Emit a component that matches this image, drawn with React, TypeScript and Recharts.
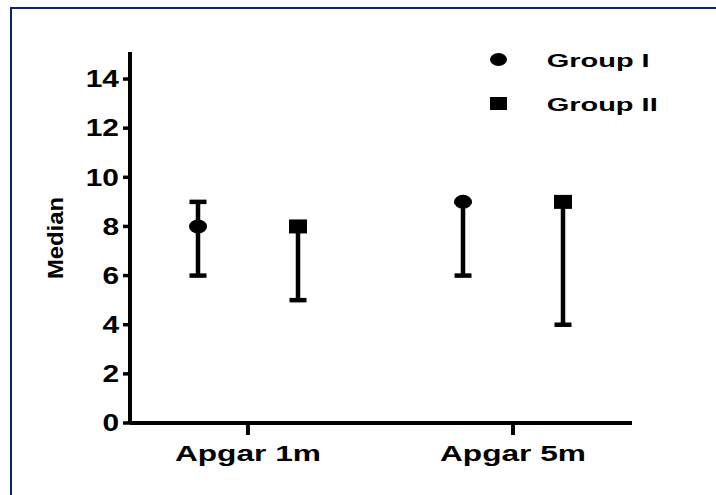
import React from 'react';
import { ScatterChart, Scatter, XAxis, YAxis, ErrorBar, Legend } from 'recharts';

// ---- data ----
const categories = ['Apgar 1m', 'Apgar 5m'];
const seriesNames = ['Group I', 'Group II'];
const groupIMedian = [8, 9];
const groupILow = [6, 6];
const groupIHigh = [9, 9];
const groupIIMedian = [8, 9];
const groupIILow = [5, 4];
const groupIIHigh = [8, 9];
const yTicks = [0, 2, 4, 6, 8, 10, 12, 14];
const yLabel = 'Median';

const FONT = '"Liberation Sans", Arial, Helvetica, sans-serif';
const INK = '#000';

const build = (med: number[], low: number[], high: number[]) =>
  categories.map((c, i) => ({
    x: i + 1,
    category: c,
    y: med[i],
    err: [med[i] - low[i], high[i] - med[i]],
  }));

const groupIData = build(groupIMedian, groupILow, groupIHigh);
const groupIIData = build(groupIIMedian, groupIILow, groupIIHigh);

const CircleMark = (p: any) => <ellipse cx={p.cx} cy={p.cy} rx={9} ry={7} fill={INK} />;
const SquareMark = (p: any) => <rect x={p.cx - 9} y={p.cy - 7} width={18} height={14} fill={INK} />;

const YTick = ({ x, y, payload }: any) => (
  <g transform={`translate(${x},${y}) scale(1.3,1)`}>
    <text x={0} y={0} dy="0.36em" textAnchor="end" fontFamily={FONT} fontSize={23} fontWeight="bold" fill={INK}>
      {payload.value}
    </text>
  </g>
);

const XTick = ({ x, y, payload }: any) => (
  <text
    x={x}
    y={y}
    dy="0.71em"
    textAnchor="middle"
    textLength={146}
    lengthAdjust="spacingAndGlyphs"
    fontFamily={FONT}
    fontSize={22}
    fontWeight="bold"
    fill={INK}
  >
    {categories[payload.value - 1]}
  </text>
);

const LegendContent = (props: any) => {
  const payload = props.payload || [];
  return (
    <svg width={200} height={80} style={{ display: 'block' }}>
      {payload.map((entry: any, i: number) => {
        const cy = 19.5 + i * 44;
        const name = entry.value;
        const idx = seriesNames.indexOf(name);
        return (
          <g key={name}>
            {idx === 0 ? (
              <ellipse cx={18.5} cy={cy} rx={8.5} ry={6.5} fill={INK} />
            ) : (
              <rect x={10} y={cy - 6.5} width={17} height={13} fill={INK} />
            )}
            <text
              x={66.7}
              y={cy + 7}
              textLength={idx === 0 ? 103 : 111}
              lengthAdjust="spacingAndGlyphs"
              fontFamily={FONT}
              fontSize={18}
              fontWeight="bold"
              fill={INK}
            >
              {name}
            </text>
          </g>
        );
      })}
    </svg>
  );
};

export default function App() {
  return (
    <div style={{ position: 'absolute', left: 0, top: 0, width: 716, height: 495, background: '#fff' }}>
      <div
        style={{
          position: 'absolute',
          left: 10,
          top: 7,
          width: 706,
          height: 488,
          borderTop: '2px solid #0b2866',
          borderLeft: '2px solid #0b2866',
          boxSizing: 'border-box',
        }}
      />
      <div style={{ position: 'absolute', left: 0, top: 0 }}>
        <ScatterChart width={716} height={495} margin={{ top: 52, right: 84, left: 70, bottom: 32 }}>
          <XAxis
            xAxisId="cat"
            type="number"
            dataKey="x"
            domain={[0.555, 2.449]}
            allowDataOverflow
            ticks={[1, 2]}
            tick={<XTick />}
            height={40}
            tickSize={12}
            tickMargin={10}
            axisLine={{ stroke: INK, strokeWidth: 4 }}
            tickLine={{ stroke: INK, strokeWidth: 4 }}
          />
          <XAxis xAxisId="g1" type="number" dataKey="x" domain={[0.7434, 2.6377]} allowDataOverflow hide />
          <XAxis xAxisId="g2" type="number" dataKey="x" domain={[0.366, 2.2604]} allowDataOverflow hide />
          <YAxis
            type="number"
            dataKey="y"
            domain={[0, 15.1]}
            allowDataOverflow
            ticks={yTicks}
            tick={<YTick />}
            width={60}
            tickSize={7}
            tickMargin={4}
            axisLine={{ stroke: INK, strokeWidth: 4 }}
            tickLine={{ stroke: INK, strokeWidth: 3.5 }}
            label={{
              content: () => (
                <text
                  x={63}
                  y={238}
                  transform="rotate(-90 63 238)"
                  textAnchor="middle"
                  textLength={82}
                  lengthAdjust="spacingAndGlyphs"
                  fontFamily={FONT}
                  fontSize={22}
                  fontWeight="bold"
                  fill={INK}
                >
                  {yLabel}
                </text>
              ),
            }}
          />
          <Legend
            layout="vertical"
            align="center"
            verticalAlign="middle"
            content={<LegendContent />}
            wrapperStyle={{ left: 480, top: 40, width: 200, height: 80 }}
          />
          <Scatter
            name={seriesNames[0]}
            data={groupIData}
            xAxisId="g1"
            shape={<CircleMark />}
            fill={INK}
            isAnimationActive={false}
          >
            <ErrorBar dataKey="err" direction="y" width={8.5} stroke={INK} strokeWidth={4.5} />
          </Scatter>
          <Scatter
            name={seriesNames[1]}
            data={groupIIData}
            xAxisId="g2"
            shape={<SquareMark />}
            fill={INK}
            isAnimationActive={false}
          >
            <ErrorBar dataKey="err" direction="y" width={8.5} stroke={INK} strokeWidth={4.5} />
          </Scatter>
        </ScatterChart>
      </div>
    </div>
  );
}
